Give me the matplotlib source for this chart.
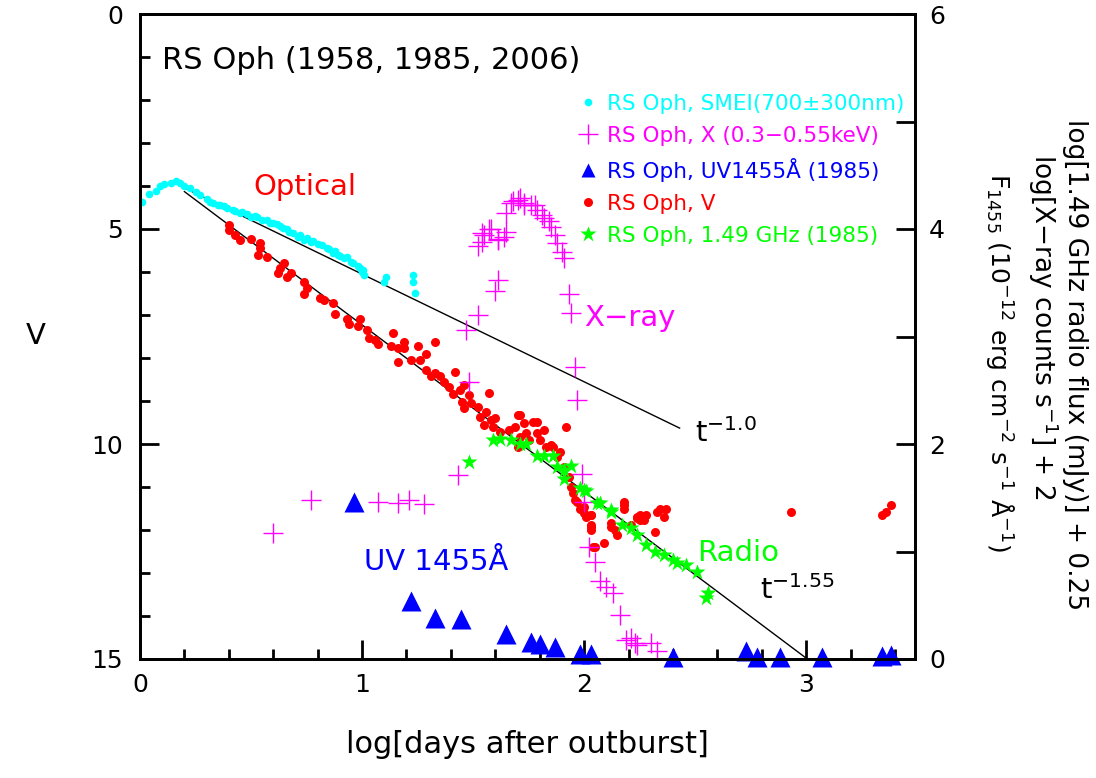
import numpy as np
import matplotlib.pyplot as plt
from matplotlib.ticker import MultipleLocator, FixedLocator

plt.rcParams['font.family'] = ['DejaVu Sans']

# SMEI optical (V-like magnitude, left axis)
smei_x = [0.01, 0.04, 0.07, 0.09, 0.11, 0.14, 0.16, 0.18, 0.20, 0.225, 0.25, 0.27,
          0.30, 0.315, 0.33, 0.35, 0.36, 0.38, 0.39, 0.42, 0.43, 0.45, 0.46, 0.48,
          0.50, 0.52, 0.525, 0.55, 0.57, 0.585, 0.60, 0.615, 0.63, 0.645, 0.66, 0.67,
          0.69, 0.71, 0.72, 0.74, 0.75, 0.77, 0.78, 0.80, 0.82, 0.84, 0.85, 0.87,
          0.88, 0.89, 0.90, 0.92, 0.93, 0.95, 0.96, 0.98, 0.99, 1.00, 1.005, 1.01,
          1.10, 1.11, 1.23, 1.23, 1.24]
smei_v = [4.37, 4.19, 4.12, 3.99, 3.95, 3.94, 3.88, 3.94, 4.00, 4.05, 4.13, 4.21,
          4.30, 4.37, 4.40, 4.44, 4.45, 4.47, 4.52, 4.56, 4.58, 4.62, 4.60, 4.65,
          4.71, 4.70, 4.73, 4.78, 4.80, 4.85, 4.86, 4.89, 4.93, 4.98, 4.99, 5.06,
          5.10, 5.19, 5.15, 5.26, 5.22, 5.30, 5.27, 5.35, 5.38, 5.45, 5.47, 5.55,
          5.52, 5.60, 5.62, 5.68, 5.66, 5.76, 5.78, 5.86, 5.90, 6.00, 5.95, 6.07,
          6.23, 6.11, 6.07, 6.23, 6.48]

# V band (left axis)
v_x = [0.40, 0.40, 0.43, 0.45, 0.50, 0.54, 0.54, 0.53, 0.57, 0.65, 0.63, 0.62,
       0.68, 0.66, 0.74, 0.75, 0.74, 0.81, 0.83, 0.87, 0.88, 0.93, 0.94, 0.98,
       0.99, 1.02, 1.03, 1.06, 1.07, 1.14, 1.13, 1.16, 1.16, 1.19, 1.19, 1.25,
       1.22, 1.26, 1.33, 1.29, 1.29, 1.31, 1.33, 1.35, 1.37, 1.39, 1.42, 1.41,
       1.44, 1.46, 1.48, 1.45, 1.46, 1.49, 1.52, 1.57, 1.53, 1.56, 1.58, 1.60,
       1.55, 1.59, 1.62, 1.66, 1.70, 1.71, 1.69, 1.73, 1.74, 1.71, 1.70, 1.77,
       1.79, 1.75, 1.79, 1.82, 1.80, 1.83, 1.85, 1.86, 1.89, 1.92, 1.88, 1.91,
       1.93, 1.94, 1.95, 1.97, 1.98, 2.00, 2.01, 2.03, 2.03, 2.03, 2.05, 2.09,
       1.96, 2.00, 2.03, 2.03, 2.04, 2.12, 2.14, 2.15, 2.12, 2.18, 2.18, 2.18,
       2.21, 2.24, 2.25, 2.25, 2.28, 2.24, 2.27, 2.34, 2.37, 2.33, 2.36, 2.32,
       2.93, 3.38, 3.36, 3.34]
v_mag = [4.91, 5.02, 5.14, 5.26, 5.24, 5.32, 5.45, 5.60, 5.66, 5.80, 5.91, 6.02,
         6.02, 6.12, 6.23, 6.38, 6.51, 6.61, 6.65, 6.71, 6.98, 7.10, 7.22, 7.25,
         7.10, 7.36, 7.54, 7.58, 7.67, 7.41, 7.71, 7.76, 8.09, 7.62, 7.77, 7.71,
         8.05, 8.05, 7.62, 7.91, 8.28, 8.43, 8.36, 8.43, 8.55, 8.67, 8.32, 8.84,
         8.74, 8.63, 8.86, 9.02, 9.17, 9.05, 9.13, 8.81, 9.37, 9.25, 9.44, 9.40,
         9.56, 9.60, 9.71, 9.67, 9.33, 9.33, 9.60, 9.52, 9.75, 9.83, 10.06, 9.48,
         9.48, 9.91, 9.75, 9.67, 9.91, 10.06, 10.02, 10.06, 10.18, 9.60, 10.30, 10.53,
         10.76, 10.99, 11.15, 11.34, 11.50, 11.61, 11.69, 11.65, 11.92, 12.00, 12.40, 12.31,
         11.30, 11.46, 11.65, 11.88, 12.39, 11.84, 12.00, 12.12, 11.92, 11.34, 11.50, 11.42,
         11.88, 11.69, 11.77, 11.65, 11.65, 11.73, 11.77, 11.50, 11.50, 11.57, 11.69, 12.04,
         11.57, 11.42, 11.57, 11.65]

# X-ray 0.3-0.55 keV, log counts + 2 (right axis)
xr_x = [0.60, 0.77, 1.07, 1.16, 1.21, 1.28, 1.43, 1.47, 1.52, 1.48, 1.60, 1.61,
        1.52, 1.54, 1.54, 1.55, 1.57, 1.58, 1.61, 1.61, 1.64, 1.65, 1.65, 1.67,
        1.68, 1.70, 1.71, 1.73, 1.73, 1.76, 1.78, 1.79, 1.81, 1.82, 1.84, 1.85,
        1.87, 1.88, 1.90, 1.91, 1.93, 1.94, 1.96, 1.97, 1.99, 2.00, 2.02, 2.05,
        2.07, 2.10, 2.13, 2.16, 2.19, 2.21, 2.23, 2.24, 2.30, 2.33]
xr_r = [1.17, 1.48, 1.46, 1.45, 1.48, 1.44, 1.71, 3.06, 3.20, 2.58, 3.42, 3.53,
        3.84, 3.88, 3.96, 3.94, 4.00, 4.00, 3.91, 3.90, 3.93, 3.97, 4.15, 4.24,
        4.26, 4.27, 4.29, 4.24, 4.22, 4.22, 4.22, 4.18, 4.13, 4.10, 4.07, 4.02,
        3.94, 3.87, 3.79, 3.73, 3.40, 3.22, 2.72, 2.41, 1.72, 1.46, 1.04, 0.90,
        0.73, 0.67, 0.61, 0.41, 0.18, 0.20, 0.15, 0.13, 0.15, 0.07]

# UV 1455 A flux (1985, right axis)
uv_x = [0.965, 1.22, 1.33, 1.445, 1.65, 1.76, 1.80, 1.87, 1.98, 2.03,
        2.40, 2.73, 2.78, 2.88, 3.07, 3.34, 3.38]
uv_r = [1.46, 0.54, 0.38, 0.37, 0.23, 0.16, 0.14, 0.11, 0.05, 0.05,
        0.02, 0.07, 0.02, 0.02, 0.02, 0.03, 0.04]

# 1.49 GHz radio (1985), log flux + 0.25 (right axis)
rad_x = [1.48, 1.59, 1.62, 1.67, 1.71, 1.74, 1.79, 1.82, 1.86, 1.88, 1.91, 1.94,
         1.91, 1.98, 2.00, 2.01, 2.06, 2.07, 2.12, 2.12, 2.17, 2.21, 2.24, 2.28,
         2.32, 2.36, 2.40, 2.42, 2.46, 2.51, 2.56, 2.55]
rad_r = [1.83, 2.04, 2.05, 2.04, 2.00, 2.00, 1.89, 1.89, 1.89, 1.79, 1.76, 1.80,
         1.67, 1.59, 1.57, 1.56, 1.45, 1.45, 1.39, 1.37, 1.25, 1.22, 1.15, 1.06,
         1.00, 0.97, 0.92, 0.89, 0.87, 0.81, 0.61, 0.57]

# power-law guide lines (end points)
l10_x = [0.19, 2.43]
l10_v = [4.02, 9.63]
l155_x = [0.20, 3.00]
l155_v = [4.13, 14.98]

fig = plt.figure(figsize=(10.96, 7.78), dpi=100)
ax = fig.add_axes([140/1096, 1-659/778, 775/1096, 645/778])
ax2 = ax.twinx()

ax.set_xlim(0, 3.49)
ax.set_ylim(15, 0)
ax2.set_ylim(0, 6)

ax.plot(l10_x, l10_v, color='black', lw=1)
ax.plot(l155_x, l155_v, color='black', lw=1)

h_smei, = ax.plot(smei_x, smei_v, 'o', color='#00ffff', ms=5.5, mec='none',
                  label='RS Oph, SMEI(700\u00b1300nm)')
h_v, = ax.plot(v_x, v_mag, 'o', color='#ff0000', ms=6.5, mec='none',
               label='RS Oph, V')
h_x, = ax2.plot(xr_x, xr_r, '+', color='#ff00ff', ms=15, mew=1,
                label='RS Oph, X (0.3\u22120.55keV)')
h_uv, = ax2.plot(uv_x, uv_r, '^', color='#0000ff', ms=14, mec='none',
                 clip_on=False, label='RS Oph, UV1455\u00c5 (1985)')
h_r, = ax2.plot(rad_x, rad_r, '*', color='#00ff00', ms=12, mec='none',
                label='RS Oph, 1.49 GHz (1985)')

fs = 21
ax.text(0.10, 1.07, 'RS Oph (1958, 1985, 2006)', fontsize=22, va='center')
ax.text(0.51, 4.02, 'Optical', color='#ff0000', fontsize=fs, va='center')
ax.text(2.0, 7.07, 'X\u2212ray', color='#ff00ff', fontsize=fs, va='center')
ax.text(1.01, 12.74, 'UV 1455\u00c5', color='#0000ff', fontsize=fs, va='center')
ax.text(2.51, 12.53, 'Radio', color='#00ff00', fontsize=fs, va='center')
ax.text(2.5, 9.75, r'$\mathregular{t^{-1.0}}$', fontsize=fs, va='center')
ax.text(2.79, 13.4, r'$\mathregular{t^{-1.55}}$', fontsize=fs, va='center')

leg = ax2.legend(handles=[h_smei, h_x, h_uv, h_v, h_r], loc='upper left',
                 bbox_to_anchor=(0.55, 0.893), frameon=False, fontsize=15.5,
                 handlelength=1.0, handletextpad=0.4, labelspacing=0.56,
                 labelcolor='linecolor', borderpad=0)
leg.legend_handles[2].set_markersize(10)

ax.set_xlabel('log[days after outburst]', fontsize=22, labelpad=24)
ax.set_ylabel('V', fontsize=fs, rotation=0, labelpad=40, va='center')

ax.xaxis.set_major_locator(MultipleLocator(1))
ax.xaxis.set_minor_locator(MultipleLocator(0.2))
ax.yaxis.set_major_locator(MultipleLocator(5))
ax.yaxis.set_minor_locator(MultipleLocator(1))
ax2.yaxis.set_major_locator(FixedLocator([0, 2, 4, 6]))
ax2.yaxis.set_minor_locator(FixedLocator([1, 3, 5]))

for a in (ax, ax2):
    a.tick_params(which='major', direction='in', length=14, width=2, labelsize=18, pad=10)
    a.tick_params(which='minor', direction='in', length=7, width=2)
    for s in a.spines.values():
        s.set_linewidth(2)
ax.tick_params(which='both', top=False, right=False)
ax.tick_params(axis='y', which='major', pad=12)
ax2.tick_params(axis='y', which='minor', length=14)

fig.text(1075/1096, 1-365/778, 'log[1.49 GHz radio flux (mJy)] + 0.25',
         rotation=270, ha='center', va='center', fontsize=19)
fig.text(1043/1096, 1-327/778, r'log[X$-$ray counts s$^{-1}$] + 2',
         rotation=270, ha='center', va='center', fontsize=19)
fig.text(1000/1096, 1-362/778,
         r'F$_{1455}$ (10$^{-12}$ erg cm$^{-2}$ s$^{-1}$ $\mathregular{\AA}^{-1}$)',
         rotation=270, ha='center', va='center', fontsize=18)

fig.savefig('out.png', dpi=100)
